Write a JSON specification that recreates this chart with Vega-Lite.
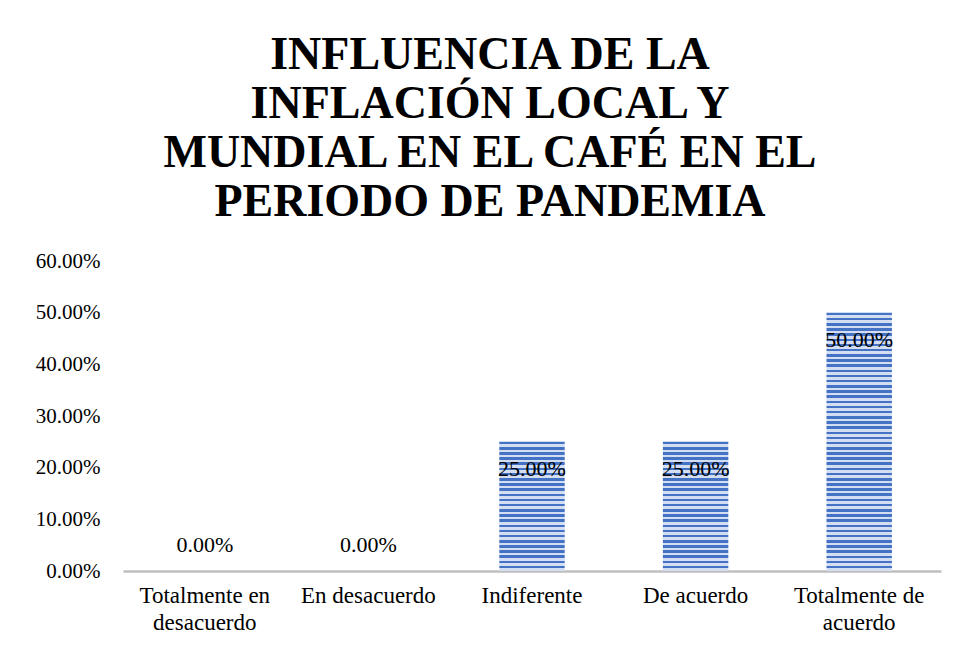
{
  "$schema": "https://vega.github.io/schema/vega-lite/v6.json",
  "width": 818,
  "height": 310,
  "autosize": "none",
  "padding": {"left": 123, "top": 261, "right": 18, "bottom": 78},
  "background": "white",
  "title": {
    "text": ["INFLUENCIA DE LA", "INFLACIÓN LOCAL Y", "MUNDIAL EN EL CAFÉ EN EL", "PERIODO DE PANDEMIA"],
    "font": "Liberation Serif",
    "fontSize": 46,
    "fontWeight": "bold",
    "color": "black",
    "lineHeight": 49,
    "anchor": "middle",
    "frame": "group",
    "dx": -42,
    "offset": 24
  },
  "config": {"view": {"stroke": null}, "font": "Liberation Serif"},
  "data": {
    "values": [
      {"cat": "Totalmente en desacuerdo", "v": 0},
      {"cat": "En desacuerdo", "v": 0},
      {"cat": "Indiferente", "v": 0.25},
      {"cat": "De acuerdo", "v": 0.25},
      {"cat": "Totalmente de acuerdo", "v": 0.5}
    ]
  },
  "encoding": {
    "x": {
      "field": "cat",
      "type": "nominal",
      "sort": null,
      "scale": {"paddingInner": 0.6, "paddingOuter": 0.3},
      "axis": {
        "title": null,
        "labelAngle": 0,
        "domainColor": "#bfbfbf",
        "domainWidth": 2.5,
        "ticks": false,
        "grid": false,
        "labelFontSize": 23,
        "labelFont": "Liberation Serif",
        "labelColor": "black",
        "labelPadding": 13,
        "labelLineHeight": 27,
        "labelLimit": 0,
        "labelExpr": "datum.label == 'Totalmente en desacuerdo' ? ['Totalmente en','desacuerdo'] : datum.label == 'Totalmente de acuerdo' ? ['Totalmente de','acuerdo'] : datum.label"
      }
    },
    "y": {
      "field": "v",
      "type": "quantitative",
      "scale": {"domain": [0, 0.6]},
      "axis": {
        "title": null,
        "domain": false,
        "ticks": false,
        "grid": false,
        "format": ".2%",
        "values": [0, 0.1, 0.2, 0.3, 0.4, 0.5, 0.6],
        "labelFontSize": 21,
        "labelFont": "Liberation Serif",
        "labelColor": "black",
        "labelPadding": 23
      }
    }
  },
  "layer": [
    {
      "mark": {"type": "bar"},
      "encoding": {
        "color": {
          "condition": {
            "test": "datum.v > 0.3",
            "value": {
              "gradient": "linear", "x1": 0, "y1": 0, "x2": 0, "y2": 1,
              "stops": [
                {"offset": 0, "color": "#4472c4"}, {"offset": 0.01, "color": "#4472c4"}, {"offset": 0.01, "color": "#d4def2"}, {"offset": 0.02, "color": "#d4def2"},
                {"offset": 0.02, "color": "#4472c4"}, {"offset": 0.03, "color": "#4472c4"}, {"offset": 0.03, "color": "#d4def2"}, {"offset": 0.04, "color": "#d4def2"},
                {"offset": 0.04, "color": "#4472c4"}, {"offset": 0.05, "color": "#4472c4"}, {"offset": 0.05, "color": "#d4def2"}, {"offset": 0.06, "color": "#d4def2"},
                {"offset": 0.06, "color": "#4472c4"}, {"offset": 0.07, "color": "#4472c4"}, {"offset": 0.07, "color": "#d4def2"}, {"offset": 0.08, "color": "#d4def2"},
                {"offset": 0.08, "color": "#4472c4"}, {"offset": 0.09, "color": "#4472c4"}, {"offset": 0.09, "color": "#d4def2"}, {"offset": 0.10, "color": "#d4def2"},
                {"offset": 0.10, "color": "#4472c4"}, {"offset": 0.11, "color": "#4472c4"}, {"offset": 0.11, "color": "#d4def2"}, {"offset": 0.12, "color": "#d4def2"},
                {"offset": 0.12, "color": "#4472c4"}, {"offset": 0.13, "color": "#4472c4"}, {"offset": 0.13, "color": "#d4def2"}, {"offset": 0.14, "color": "#d4def2"},
                {"offset": 0.14, "color": "#4472c4"}, {"offset": 0.15, "color": "#4472c4"}, {"offset": 0.15, "color": "#d4def2"}, {"offset": 0.16, "color": "#d4def2"},
                {"offset": 0.16, "color": "#4472c4"}, {"offset": 0.17, "color": "#4472c4"}, {"offset": 0.17, "color": "#d4def2"}, {"offset": 0.18, "color": "#d4def2"},
                {"offset": 0.18, "color": "#4472c4"}, {"offset": 0.19, "color": "#4472c4"}, {"offset": 0.19, "color": "#d4def2"}, {"offset": 0.20, "color": "#d4def2"},
                {"offset": 0.20, "color": "#4472c4"}, {"offset": 0.21, "color": "#4472c4"}, {"offset": 0.21, "color": "#d4def2"}, {"offset": 0.22, "color": "#d4def2"},
                {"offset": 0.22, "color": "#4472c4"}, {"offset": 0.23, "color": "#4472c4"}, {"offset": 0.23, "color": "#d4def2"}, {"offset": 0.24, "color": "#d4def2"},
                {"offset": 0.24, "color": "#4472c4"}, {"offset": 0.25, "color": "#4472c4"}, {"offset": 0.25, "color": "#d4def2"}, {"offset": 0.26, "color": "#d4def2"},
                {"offset": 0.26, "color": "#4472c4"}, {"offset": 0.27, "color": "#4472c4"}, {"offset": 0.27, "color": "#d4def2"}, {"offset": 0.28, "color": "#d4def2"},
                {"offset": 0.28, "color": "#4472c4"}, {"offset": 0.29, "color": "#4472c4"}, {"offset": 0.29, "color": "#d4def2"}, {"offset": 0.30, "color": "#d4def2"},
                {"offset": 0.30, "color": "#4472c4"}, {"offset": 0.31, "color": "#4472c4"}, {"offset": 0.31, "color": "#d4def2"}, {"offset": 0.32, "color": "#d4def2"},
                {"offset": 0.32, "color": "#4472c4"}, {"offset": 0.33, "color": "#4472c4"}, {"offset": 0.33, "color": "#d4def2"}, {"offset": 0.34, "color": "#d4def2"},
                {"offset": 0.34, "color": "#4472c4"}, {"offset": 0.35, "color": "#4472c4"}, {"offset": 0.35, "color": "#d4def2"}, {"offset": 0.36, "color": "#d4def2"},
                {"offset": 0.36, "color": "#4472c4"}, {"offset": 0.37, "color": "#4472c4"}, {"offset": 0.37, "color": "#d4def2"}, {"offset": 0.38, "color": "#d4def2"},
                {"offset": 0.38, "color": "#4472c4"}, {"offset": 0.39, "color": "#4472c4"}, {"offset": 0.39, "color": "#d4def2"}, {"offset": 0.40, "color": "#d4def2"},
                {"offset": 0.40, "color": "#4472c4"}, {"offset": 0.41, "color": "#4472c4"}, {"offset": 0.41, "color": "#d4def2"}, {"offset": 0.42, "color": "#d4def2"},
                {"offset": 0.42, "color": "#4472c4"}, {"offset": 0.43, "color": "#4472c4"}, {"offset": 0.43, "color": "#d4def2"}, {"offset": 0.44, "color": "#d4def2"},
                {"offset": 0.44, "color": "#4472c4"}, {"offset": 0.45, "color": "#4472c4"}, {"offset": 0.45, "color": "#d4def2"}, {"offset": 0.46, "color": "#d4def2"},
                {"offset": 0.46, "color": "#4472c4"}, {"offset": 0.47, "color": "#4472c4"}, {"offset": 0.47, "color": "#d4def2"}, {"offset": 0.48, "color": "#d4def2"},
                {"offset": 0.48, "color": "#4472c4"}, {"offset": 0.49, "color": "#4472c4"}, {"offset": 0.49, "color": "#d4def2"}, {"offset": 0.50, "color": "#d4def2"},
                {"offset": 0.50, "color": "#4472c4"}, {"offset": 0.51, "color": "#4472c4"}, {"offset": 0.51, "color": "#d4def2"}, {"offset": 0.52, "color": "#d4def2"},
                {"offset": 0.52, "color": "#4472c4"}, {"offset": 0.53, "color": "#4472c4"}, {"offset": 0.53, "color": "#d4def2"}, {"offset": 0.54, "color": "#d4def2"},
                {"offset": 0.54, "color": "#4472c4"}, {"offset": 0.55, "color": "#4472c4"}, {"offset": 0.55, "color": "#d4def2"}, {"offset": 0.56, "color": "#d4def2"},
                {"offset": 0.56, "color": "#4472c4"}, {"offset": 0.57, "color": "#4472c4"}, {"offset": 0.57, "color": "#d4def2"}, {"offset": 0.58, "color": "#d4def2"},
                {"offset": 0.58, "color": "#4472c4"}, {"offset": 0.59, "color": "#4472c4"}, {"offset": 0.59, "color": "#d4def2"}, {"offset": 0.60, "color": "#d4def2"},
                {"offset": 0.60, "color": "#4472c4"}, {"offset": 0.61, "color": "#4472c4"}, {"offset": 0.61, "color": "#d4def2"}, {"offset": 0.62, "color": "#d4def2"},
                {"offset": 0.62, "color": "#4472c4"}, {"offset": 0.63, "color": "#4472c4"}, {"offset": 0.63, "color": "#d4def2"}, {"offset": 0.64, "color": "#d4def2"},
                {"offset": 0.64, "color": "#4472c4"}, {"offset": 0.65, "color": "#4472c4"}, {"offset": 0.65, "color": "#d4def2"}, {"offset": 0.66, "color": "#d4def2"},
                {"offset": 0.66, "color": "#4472c4"}, {"offset": 0.67, "color": "#4472c4"}, {"offset": 0.67, "color": "#d4def2"}, {"offset": 0.68, "color": "#d4def2"},
                {"offset": 0.68, "color": "#4472c4"}, {"offset": 0.69, "color": "#4472c4"}, {"offset": 0.69, "color": "#d4def2"}, {"offset": 0.70, "color": "#d4def2"},
                {"offset": 0.70, "color": "#4472c4"}, {"offset": 0.71, "color": "#4472c4"}, {"offset": 0.71, "color": "#d4def2"}, {"offset": 0.72, "color": "#d4def2"},
                {"offset": 0.72, "color": "#4472c4"}, {"offset": 0.73, "color": "#4472c4"}, {"offset": 0.73, "color": "#d4def2"}, {"offset": 0.74, "color": "#d4def2"},
                {"offset": 0.74, "color": "#4472c4"}, {"offset": 0.75, "color": "#4472c4"}, {"offset": 0.75, "color": "#d4def2"}, {"offset": 0.76, "color": "#d4def2"},
                {"offset": 0.76, "color": "#4472c4"}, {"offset": 0.77, "color": "#4472c4"}, {"offset": 0.77, "color": "#d4def2"}, {"offset": 0.78, "color": "#d4def2"},
                {"offset": 0.78, "color": "#4472c4"}, {"offset": 0.79, "color": "#4472c4"}, {"offset": 0.79, "color": "#d4def2"}, {"offset": 0.80, "color": "#d4def2"},
                {"offset": 0.80, "color": "#4472c4"}, {"offset": 0.81, "color": "#4472c4"}, {"offset": 0.81, "color": "#d4def2"}, {"offset": 0.82, "color": "#d4def2"},
                {"offset": 0.82, "color": "#4472c4"}, {"offset": 0.83, "color": "#4472c4"}, {"offset": 0.83, "color": "#d4def2"}, {"offset": 0.84, "color": "#d4def2"},
                {"offset": 0.84, "color": "#4472c4"}, {"offset": 0.85, "color": "#4472c4"}, {"offset": 0.85, "color": "#d4def2"}, {"offset": 0.86, "color": "#d4def2"},
                {"offset": 0.86, "color": "#4472c4"}, {"offset": 0.87, "color": "#4472c4"}, {"offset": 0.87, "color": "#d4def2"}, {"offset": 0.88, "color": "#d4def2"},
                {"offset": 0.88, "color": "#4472c4"}, {"offset": 0.89, "color": "#4472c4"}, {"offset": 0.89, "color": "#d4def2"}, {"offset": 0.90, "color": "#d4def2"},
                {"offset": 0.90, "color": "#4472c4"}, {"offset": 0.91, "color": "#4472c4"}, {"offset": 0.91, "color": "#d4def2"}, {"offset": 0.92, "color": "#d4def2"},
                {"offset": 0.92, "color": "#4472c4"}, {"offset": 0.93, "color": "#4472c4"}, {"offset": 0.93, "color": "#d4def2"}, {"offset": 0.94, "color": "#d4def2"},
                {"offset": 0.94, "color": "#4472c4"}, {"offset": 0.95, "color": "#4472c4"}, {"offset": 0.95, "color": "#d4def2"}, {"offset": 0.96, "color": "#d4def2"},
                {"offset": 0.96, "color": "#4472c4"}, {"offset": 0.97, "color": "#4472c4"}, {"offset": 0.97, "color": "#d4def2"}, {"offset": 0.98, "color": "#d4def2"},
                {"offset": 0.98, "color": "#4472c4"}, {"offset": 0.99, "color": "#4472c4"}, {"offset": 0.99, "color": "#d4def2"}, {"offset": 1, "color": "#d4def2"}
              ]
            }
          },
          "value": {
            "gradient": "linear", "x1": 0, "y1": 0, "x2": 0, "y2": 1,
            "stops": [
              {"offset": 0, "color": "#4472c4"}, {"offset": 0.02, "color": "#4472c4"}, {"offset": 0.02, "color": "#d4def2"}, {"offset": 0.04, "color": "#d4def2"},
              {"offset": 0.04, "color": "#4472c4"}, {"offset": 0.06, "color": "#4472c4"}, {"offset": 0.06, "color": "#d4def2"}, {"offset": 0.08, "color": "#d4def2"},
              {"offset": 0.08, "color": "#4472c4"}, {"offset": 0.10, "color": "#4472c4"}, {"offset": 0.10, "color": "#d4def2"}, {"offset": 0.12, "color": "#d4def2"},
              {"offset": 0.12, "color": "#4472c4"}, {"offset": 0.14, "color": "#4472c4"}, {"offset": 0.14, "color": "#d4def2"}, {"offset": 0.16, "color": "#d4def2"},
              {"offset": 0.16, "color": "#4472c4"}, {"offset": 0.18, "color": "#4472c4"}, {"offset": 0.18, "color": "#d4def2"}, {"offset": 0.20, "color": "#d4def2"},
              {"offset": 0.20, "color": "#4472c4"}, {"offset": 0.22, "color": "#4472c4"}, {"offset": 0.22, "color": "#d4def2"}, {"offset": 0.24, "color": "#d4def2"},
              {"offset": 0.24, "color": "#4472c4"}, {"offset": 0.26, "color": "#4472c4"}, {"offset": 0.26, "color": "#d4def2"}, {"offset": 0.28, "color": "#d4def2"},
              {"offset": 0.28, "color": "#4472c4"}, {"offset": 0.30, "color": "#4472c4"}, {"offset": 0.30, "color": "#d4def2"}, {"offset": 0.32, "color": "#d4def2"},
              {"offset": 0.32, "color": "#4472c4"}, {"offset": 0.34, "color": "#4472c4"}, {"offset": 0.34, "color": "#d4def2"}, {"offset": 0.36, "color": "#d4def2"},
              {"offset": 0.36, "color": "#4472c4"}, {"offset": 0.38, "color": "#4472c4"}, {"offset": 0.38, "color": "#d4def2"}, {"offset": 0.40, "color": "#d4def2"},
              {"offset": 0.40, "color": "#4472c4"}, {"offset": 0.42, "color": "#4472c4"}, {"offset": 0.42, "color": "#d4def2"}, {"offset": 0.44, "color": "#d4def2"},
              {"offset": 0.44, "color": "#4472c4"}, {"offset": 0.46, "color": "#4472c4"}, {"offset": 0.46, "color": "#d4def2"}, {"offset": 0.48, "color": "#d4def2"},
              {"offset": 0.48, "color": "#4472c4"}, {"offset": 0.50, "color": "#4472c4"}, {"offset": 0.50, "color": "#d4def2"}, {"offset": 0.52, "color": "#d4def2"},
              {"offset": 0.52, "color": "#4472c4"}, {"offset": 0.54, "color": "#4472c4"}, {"offset": 0.54, "color": "#d4def2"}, {"offset": 0.56, "color": "#d4def2"},
              {"offset": 0.56, "color": "#4472c4"}, {"offset": 0.58, "color": "#4472c4"}, {"offset": 0.58, "color": "#d4def2"}, {"offset": 0.60, "color": "#d4def2"},
              {"offset": 0.60, "color": "#4472c4"}, {"offset": 0.62, "color": "#4472c4"}, {"offset": 0.62, "color": "#d4def2"}, {"offset": 0.64, "color": "#d4def2"},
              {"offset": 0.64, "color": "#4472c4"}, {"offset": 0.66, "color": "#4472c4"}, {"offset": 0.66, "color": "#d4def2"}, {"offset": 0.68, "color": "#d4def2"},
              {"offset": 0.68, "color": "#4472c4"}, {"offset": 0.70, "color": "#4472c4"}, {"offset": 0.70, "color": "#d4def2"}, {"offset": 0.72, "color": "#d4def2"},
              {"offset": 0.72, "color": "#4472c4"}, {"offset": 0.74, "color": "#4472c4"}, {"offset": 0.74, "color": "#d4def2"}, {"offset": 0.76, "color": "#d4def2"},
              {"offset": 0.76, "color": "#4472c4"}, {"offset": 0.78, "color": "#4472c4"}, {"offset": 0.78, "color": "#d4def2"}, {"offset": 0.80, "color": "#d4def2"},
              {"offset": 0.80, "color": "#4472c4"}, {"offset": 0.82, "color": "#4472c4"}, {"offset": 0.82, "color": "#d4def2"}, {"offset": 0.84, "color": "#d4def2"},
              {"offset": 0.84, "color": "#4472c4"}, {"offset": 0.86, "color": "#4472c4"}, {"offset": 0.86, "color": "#d4def2"}, {"offset": 0.88, "color": "#d4def2"},
              {"offset": 0.88, "color": "#4472c4"}, {"offset": 0.90, "color": "#4472c4"}, {"offset": 0.90, "color": "#d4def2"}, {"offset": 0.92, "color": "#d4def2"},
              {"offset": 0.92, "color": "#4472c4"}, {"offset": 0.94, "color": "#4472c4"}, {"offset": 0.94, "color": "#d4def2"}, {"offset": 0.96, "color": "#d4def2"},
              {"offset": 0.96, "color": "#4472c4"}, {"offset": 0.98, "color": "#4472c4"}, {"offset": 0.98, "color": "#d4def2"}, {"offset": 1, "color": "#d4def2"}
            ]
          }
        }
      }
    },
    {
      "transform": [{"filter": "datum.v > 0"}],
      "mark": {"type": "text", "dy": 27, "fontSize": 22, "font": "Liberation Serif", "color": "black", "baseline": "middle"},
      "encoding": {"text": {"field": "v", "type": "quantitative", "format": ".2%"}}
    },
    {
      "transform": [{"filter": "datum.v == 0"}],
      "mark": {"type": "text", "dy": -26, "fontSize": 22, "font": "Liberation Serif", "color": "black", "baseline": "middle"},
      "encoding": {"text": {"field": "v", "type": "quantitative", "format": ".2%"}}
    }
  ]
}
